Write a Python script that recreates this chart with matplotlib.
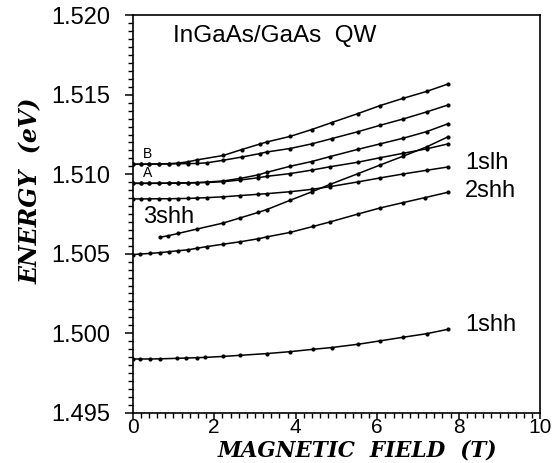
import matplotlib
matplotlib.use("Agg")
import matplotlib.pyplot as plt
from matplotlib.ticker import MultipleLocator, FormatStrFormatter

# ---- data (B in tesla, energy in eV) ----
b_upper_x = [0, 0.2, 0.4, 0.65, 0.9, 1.1, 1.35, 1.57, 2.22, 2.67, 3.12, 3.29, 3.86, 4.39, 4.88, 5.53, 6.07, 6.64, 7.21, 7.74]
b_upper_e = [1.51063, 1.51063, 1.51064, 1.51065, 1.51067, 1.51070, 1.51078, 1.51090, 1.51118, 1.51155, 1.51190, 1.51203, 1.51238, 1.51281, 1.51325, 1.51382, 1.51432, 1.51478, 1.51521, 1.51568]

b_lower_x = [0, 0.2, 0.4, 0.65, 0.9, 1.1, 1.35, 1.57, 1.82, 2.22, 2.67, 3.12, 3.29, 3.86, 4.39, 4.88, 5.53, 6.07, 6.64, 7.21, 7.74]
b_lower_e = [1.51063, 1.51063, 1.51063, 1.51064, 1.51065, 1.51066, 1.51067, 1.51068, 1.51072, 1.51088, 1.51108, 1.51130, 1.51140, 1.51162, 1.51191, 1.51224, 1.51268, 1.51308, 1.51348, 1.51392, 1.51436]

a_upper_x = [0, 0.2, 0.4, 0.65, 0.9, 1.1, 1.35, 1.57, 1.82, 2.22, 2.64, 3.08, 3.29, 3.86, 4.39, 4.84, 5.53, 6.07, 6.64, 7.21, 7.74]
a_upper_e = [1.50943, 1.50943, 1.50943, 1.50944, 1.50944, 1.50945, 1.50946, 1.50948, 1.50951, 1.50958, 1.50974, 1.50996, 1.51012, 1.51050, 1.51080, 1.51111, 1.51157, 1.51191, 1.51227, 1.51268, 1.51318]

a_lower_x = [0, 0.2, 0.4, 0.65, 0.9, 1.1, 1.35, 1.57, 1.82, 2.22, 2.64, 3.08, 3.29, 3.86, 4.39, 4.84, 5.53, 6.07, 6.64, 7.21, 7.74]
a_lower_e = [1.50943, 1.50943, 1.50943, 1.50943, 1.50944, 1.50944, 1.50945, 1.50946, 1.50948, 1.50953, 1.50964, 1.50978, 1.50987, 1.51004, 1.51026, 1.51047, 1.51076, 1.51104, 1.51132, 1.51160, 1.51191]

slh1_x = [0, 0.2, 0.4, 0.65, 0.9, 1.1, 1.35, 1.57, 1.82, 2.22, 2.64, 3.08, 3.29, 3.86, 4.39, 4.84, 5.53, 6.07, 6.64, 7.21, 7.74]
slh1_e = [1.50845, 1.50845, 1.50845, 1.50846, 1.50846, 1.50847, 1.50848, 1.50850, 1.50853, 1.50858, 1.50866, 1.50874, 1.50878, 1.50890, 1.50905, 1.50922, 1.50952, 1.50977, 1.51002, 1.51025, 1.51046]

shh3_x = [0.67, 0.87, 1.12, 1.57, 2.22, 2.63, 3.08, 3.29, 3.86, 4.39, 4.84, 5.53, 6.07, 6.64, 7.21, 7.74]
shh3_e = [1.50604, 1.50613, 1.50628, 1.50655, 1.50693, 1.50725, 1.50760, 1.50778, 1.50836, 1.50889, 1.50936, 1.51004, 1.51058, 1.51114, 1.51172, 1.51236]

shh2_x = [0, 0.18, 0.42, 0.67, 0.9, 1.12, 1.36, 1.57, 1.82, 2.22, 2.63, 3.08, 3.29, 3.86, 4.43, 4.84, 5.53, 6.07, 6.64, 7.17, 7.74]
shh2_e = [1.50495, 1.50498, 1.50502, 1.50507, 1.50513, 1.50519, 1.50525, 1.50534, 1.50545, 1.50560, 1.50575, 1.50594, 1.50606, 1.50634, 1.50672, 1.50700, 1.50750, 1.50788, 1.50822, 1.50853, 1.50887]

shh1_x = [0, 0.18, 0.42, 0.67, 1.08, 1.32, 1.57, 1.77, 2.22, 2.63, 3.29, 3.86, 4.43, 4.88, 5.54, 6.07, 6.64, 7.21, 7.74]
shh1_e = [1.49838, 1.49838, 1.49838, 1.49839, 1.49842, 1.49844, 1.49846, 1.49848, 1.49854, 1.49861, 1.49872, 1.49884, 1.49899, 1.49910, 1.49931, 1.49952, 1.49975, 1.49997, 1.50025]

series = [(b_upper_x, b_upper_e), (b_lower_x, b_lower_e), (a_upper_x, a_upper_e),
          (a_lower_x, a_lower_e), (slh1_x, slh1_e), (shh3_x, shh3_e),
          (shh2_x, shh2_e), (shh1_x, shh1_e)]

fig = plt.figure(figsize=(5.57, 4.63), dpi=100)
ax = fig.add_axes([0.2382, 0.1086, 0.970 - 0.2382, 0.967 - 0.1086])

for xs, es in series:
    ax.plot(xs, es, color="black", lw=1.1, marker="o", ms=2.0, mfc="black", mec="black")

ax.set_xlim(0, 10)
ax.set_ylim(1.495, 1.520)
ax.xaxis.set_major_locator(MultipleLocator(2))
ax.xaxis.set_minor_locator(MultipleLocator(0.2))
ax.yaxis.set_major_locator(MultipleLocator(0.005))
ax.yaxis.set_minor_locator(MultipleLocator(0.0005))
ax.yaxis.set_major_formatter(FormatStrFormatter("%.3f"))

sans = "Liberation Sans"
ax.tick_params(axis="y", which="major", direction="out", length=6, width=1.1, pad=10, labelsize=17)
ax.tick_params(axis="y", which="minor", direction="out", length=3.8, width=1.0)
ax.tick_params(axis="x", which="major", direction="out", length=4.0, width=1.1, pad=0, labelsize=15)
ax.tick_params(axis="x", which="minor", direction="out", length=3.8, width=1.0)
for lab in ax.get_xticklabels() + ax.get_yticklabels():
    lab.set_fontfamily(sans)
for s in ax.spines.values():
    s.set_linewidth(1.2)

serif_x = dict(family="DejaVu Serif", weight="bold", style="italic", size=15.5)
serif_y = dict(family="DejaVu Serif", weight="bold", style="italic", size=17)
ax.set_xlabel("MAGNETIC  FIELD  (T)", fontdict=serif_x)
ax.xaxis.set_label_coords(0.5515, -0.0954)
ax.xaxis.label.set_va("center")
ax.set_ylabel("ENERGY  (eV)", fontdict=serif_y)
ax.yaxis.set_label_coords(-0.2495, 0.558)
ax.yaxis.label.set_va("center")

ax.text(0.99, 1.5187, "InGaAs/GaAs  QW", family=sans, fontsize=17.5, va="center", ha="left")
ax.text(8.16, 1.51071, "1slh", family=sans, fontsize=17, va="center", ha="left")
ax.text(8.16, 1.50895, "2shh", family=sans, fontsize=17, va="center", ha="left")
ax.text(8.16, 1.50052, "1shh", family=sans, fontsize=17, va="center", ha="left")
ax.text(0.25, 1.50731, "3shh", family=sans, fontsize=17, va="center", ha="left")
ax.text(0.25, 1.51128, "B", family=sans, fontsize=10, va="center", ha="left")
ax.text(0.25, 1.51010, "A", family=sans, fontsize=10, va="center", ha="left")

fig.savefig("out.png", dpi=100)
